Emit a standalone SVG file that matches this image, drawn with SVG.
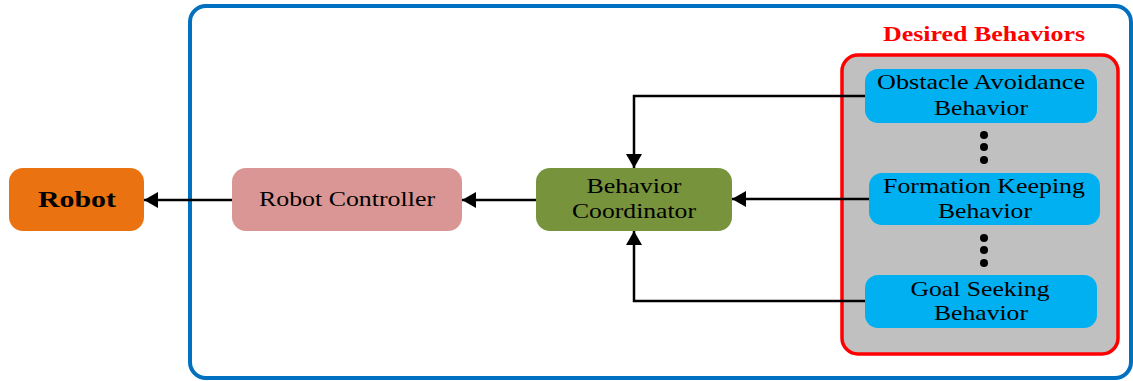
<svg xmlns="http://www.w3.org/2000/svg" width="1133" height="381" viewBox="0 0 1133 381">
  <style>
    text { font-family: "Liberation Serif", "Times New Roman", serif; font-size: 22px; fill: #000; text-anchor: middle; }
    .bold { font-weight: bold; font-size: 24px; }
    .title { font-weight: bold; font-size: 21px; fill: #FF0000; }
    .node { stroke: none; }
    .conn { fill: none; stroke: #000; stroke-width: 2.5; }
    .dot { fill: #000; }
  </style>
  <defs>
    <marker id="arrow" viewBox="0 0 14 16" refX="14" refY="8" markerWidth="14" markerHeight="16" markerUnits="userSpaceOnUse" orient="auto">
      <path d="M0,0 L14,8 L0,16 z" fill="#000"/>
    </marker>
  </defs>

  <rect width="1133" height="381" fill="#FFFFFF"/>

  <!-- system boundary -->
  <rect id="system-frame" x="190" y="6" width="941" height="372" rx="16" ry="16" fill="none" stroke="#0070C0" stroke-width="4"/>

  <!-- behavior set container -->
  <g id="desired-behaviors">
    <rect x="842" y="55" width="276" height="299" rx="16" ry="16" fill="#C0C0C0" stroke="#FF0000" stroke-width="3.5"/>
    <text class="title" x="984" y="41" textLength="202" lengthAdjust="spacingAndGlyphs">Desired Behaviors</text>
  </g>

  <!-- connectors -->
  <g id="connectors">
    <path class="conn" d="M865,96 H634 V168" marker-end="url(#arrow)"/>
    <path class="conn" d="M869,199 H732" marker-end="url(#arrow)"/>
    <path class="conn" d="M865,301 H634 V231" marker-end="url(#arrow)"/>
    <path class="conn" d="M536,200 H462" marker-end="url(#arrow)"/>
    <path class="conn" d="M232,200 H144" marker-end="url(#arrow)"/>
  </g>

  <g id="robot">
    <rect class="node" x="9" y="168" width="135" height="63" rx="14" ry="14" fill="#EA7210"/>
    <text class="bold" x="77" y="207" textLength="78" lengthAdjust="spacingAndGlyphs">Robot</text>
  </g>

  <g id="robot-controller">
    <rect class="node" x="232" y="168" width="230" height="63" rx="14" ry="14" fill="#D99694"/>
    <text x="347" y="206" textLength="176" lengthAdjust="spacingAndGlyphs">Robot Controller</text>
  </g>

  <g id="behavior-coordinator">
    <rect class="node" x="536" y="168" width="196" height="63" rx="14" ry="14" fill="#77933C"/>
    <text x="634" y="193" textLength="95" lengthAdjust="spacingAndGlyphs">Behavior</text>
    <text x="634" y="218" textLength="124" lengthAdjust="spacingAndGlyphs">Coordinator</text>
  </g>

  <g id="obstacle-avoidance">
    <rect class="node" x="865" y="69" width="232" height="54" rx="13" ry="13" fill="#00B0F0"/>
    <text x="981" y="89" textLength="208" lengthAdjust="spacingAndGlyphs">Obstacle Avoidance</text>
    <text x="981" y="115" textLength="94" lengthAdjust="spacingAndGlyphs">Behavior</text>
  </g>

  <g id="dots-upper">
    <circle class="dot" cx="984" cy="135" r="4"/>
    <circle class="dot" cx="984" cy="147" r="4"/>
    <circle class="dot" cx="984" cy="160" r="4"/>
  </g>

  <g id="formation-keeping">
    <rect class="node" x="869" y="173" width="231" height="52" rx="13" ry="13" fill="#00B0F0"/>
    <text x="984" y="193" textLength="202" lengthAdjust="spacingAndGlyphs">Formation Keeping</text>
    <text x="985" y="218" textLength="94" lengthAdjust="spacingAndGlyphs">Behavior</text>
  </g>

  <g id="dots-lower">
    <circle class="dot" cx="984" cy="238" r="4"/>
    <circle class="dot" cx="984" cy="250" r="4"/>
    <circle class="dot" cx="984" cy="263" r="4"/>
  </g>

  <g id="goal-seeking">
    <rect class="node" x="865" y="275" width="232" height="53" rx="13" ry="13" fill="#00B0F0"/>
    <text x="980" y="296" textLength="139" lengthAdjust="spacingAndGlyphs">Goal Seeking</text>
    <text x="981" y="320" textLength="94" lengthAdjust="spacingAndGlyphs">Behavior</text>
  </g>
</svg>
